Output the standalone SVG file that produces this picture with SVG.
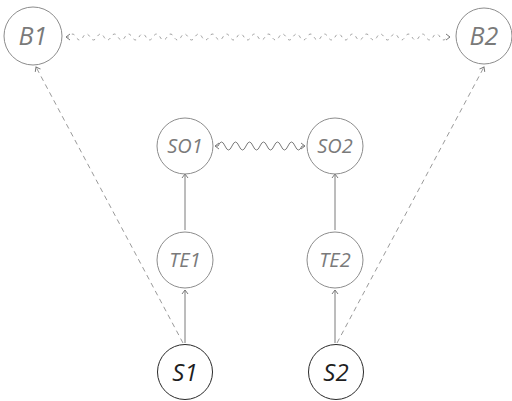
<svg xmlns="http://www.w3.org/2000/svg" width="512" height="401" viewBox="0 0 512 401">
<style>
.n{fill:none;stroke:#8c8c8c;stroke-width:1}
.nd{fill:none;stroke:#2a2a2a;stroke-width:1}
.t{font-family:"Open Sans","Noto Sans",sans-serif;font-style:italic;fill:#7a7a7a;text-anchor:middle}
.td{fill:#1e1e1e}
.c{fill:none;stroke:#7a7a7a;stroke-width:1}
.d{stroke-dasharray:5 4;stroke:#9a9a9a}
.w{stroke-dasharray:3 4;stroke:#a0a0a0}
</style>
<defs>
<marker id="a" markerUnits="userSpaceOnUse" markerWidth="10" markerHeight="10" viewBox="-6 -5 8 10" refX="0" refY="0" orient="auto-start-reverse">
<path d="M-4,-3 L0,0 L-4,3" fill="none" stroke="#7a7a7a" stroke-width="1"/>
</marker>
</defs>
<g id="connectors">
<path class="c d" d="M183,343 L36,67" marker-end="url(#a)"/>
<path class="c d" d="M337,343 L484,67" marker-end="url(#a)"/>
<path class="c" d="M185,343 L185,290" marker-end="url(#a)"/>
<path class="c" d="M185,230 L185,174" marker-end="url(#a)"/>
<path class="c" d="M335,343 L335,290" marker-end="url(#a)"/>
<path class="c" d="M335,230 L335,174" marker-end="url(#a)"/>
<path class="c" d="M215,146 h3 q3.5,-8 7,0 t7,0 t7,0 t7,0 t7,0 t7,0 t7,0 t7,0 t7,0 t7,0 t7,0 t7,0 h3" marker-start="url(#a)" marker-end="url(#a)"/>
<path class="c w" d="M66,37 h3 q3.5,-6 7,0 t7,0 t7,0 t7,0 t7,0 t7,0 t7,0 t7,0 t7,0 t7,0 t7,0 t7,0 t7,0 t7,0 t7,0 t7,0 t7,0 t7,0 t7,0 t7,0 t7,0 t7,0 t7,0 t7,0 t7,0 t7,0 t7,0 t7,0 t7,0 t7,0 t7,0 t7,0 t7,0 t7,0 t7,0 t7,0 t7,0 t7,0 t7,0 t7,0 t7,0 t7,0 t7,0 t7,0 t7,0 t7,0 t7,0 t7,0 t7,0 t7,0 t7,0 t7,0 t7,0 t7,0 h3" marker-start="url(#a)" marker-end="url(#a)"/>
</g>
<g id="B1"><circle class="n" cx="33" cy="36" r="29"/><text class="t" x="33" y="45" font-size="25">B1</text></g>
<g id="B2"><circle class="n" cx="484" cy="36" r="28"/><text class="t" x="484" y="45" font-size="25">B2</text></g>
<g id="SO1"><circle class="n" cx="185" cy="146" r="28"/><text class="t" x="185" y="153" font-size="20">SO1</text></g>
<g id="SO2"><circle class="n" cx="335" cy="146" r="28"/><text class="t" x="335" y="153" font-size="20">SO2</text></g>
<g id="TE1"><circle class="n" cx="185" cy="260" r="28"/><text class="t" x="185" y="267" font-size="20">TE1</text></g>
<g id="TE2"><circle class="n" cx="335" cy="260" r="28"/><text class="t" x="335" y="267" font-size="20">TE2</text></g>
<g id="S1"><circle class="nd" cx="185" cy="372" r="27.5"/><text class="t td" x="185" y="381" font-size="24">S1</text></g>
<g id="S2"><circle class="nd" cx="336" cy="372" r="27.5"/><text class="t td" x="336" y="381" font-size="24">S2</text></g>
</svg>
